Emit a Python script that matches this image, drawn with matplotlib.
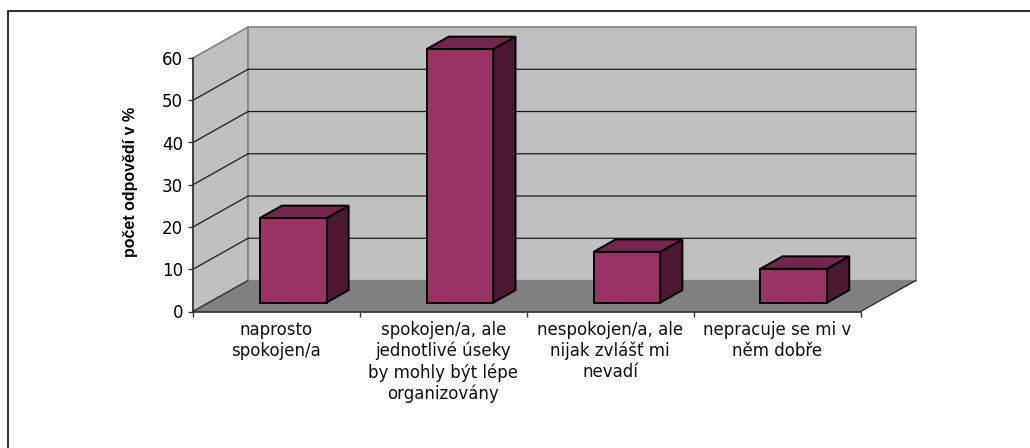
import matplotlib
matplotlib.use("Agg")
import matplotlib.pyplot as plt
from matplotlib.lines import Line2D
from matplotlib.patches import Polygon

categories = [
    "naprosto\nspokojen/a",
    "spokojen/a, ale\njednotlivé úseky\nby mohly být lépe\norganizovány",
    "nespokojen/a, ale\nnijak zvlášť mi\nnevadí",
    "nepracuje se mi v\nněm dobře",
]
values = [20, 60, 12, 8]
y_ticks = [0, 10, 20, 30, 40, 50, 60]

# oblique depth of the 3D box, in axis units
DEPTH_X = 0.33
DEPTH_Y = 7.33
BAR_WIDTH = 0.4
BAR_FRONT = 0.29
BAR_BACK = 0.69


def proj(x, v, d):
    return (x + d * DEPTH_X, v + d * DEPTH_Y)


def face(ax, corners, color, edge, lw, z):
    pts = [proj(*c) for c in corners]
    ax.add_patch(Polygon(pts, closed=True, facecolor=color, edgecolor=edge,
                         linewidth=lw, zorder=z, clip_on=False, joinstyle='miter'))


W, H = 1030, 448
fig = plt.figure(figsize=(W / 100, H / 100), dpi=100)

# outer frame, only top and left fall inside the image
fig.add_artist(Line2D([7.5 / W, 7.5 / W, 1], [0, 1 - 11 / H, 1 - 11 / H],
                      transform=fig.transFigure, color='#333333', lw=1.5))

ax = fig.add_axes([193 / W, 1 - 311.5 / H, 667.5 / W, 253.5 / H])
ax.set_xlim(0, len(values))
ax.set_ylim(0, 60)
ax.patch.set_visible(False)

n = len(values)
top = y_ticks[-1]

# walls and floor
face(ax, [(0, 0, 0), (0, top, 0), (0, top, 1), (0, 0, 1)], '#C0C0C0', '#808080', 1.2, 1)
face(ax, [(0, 0, 1), (n, 0, 1), (n, top, 1), (0, top, 1)], '#C0C0C0', '#808080', 1.2, 1)
face(ax, [(0, 0, 0), (n, 0, 0), (n, 0, 1), (0, 0, 1)], '#808080', '#808080', 1, 2)

# floor edges
for x in (0, n):
    a, b = proj(x, 0, 0), proj(x, 0, 1)
    ax.plot([a[0], b[0]], [a[1], b[1]], color='#303030', lw=0.9, zorder=3, clip_on=False)

# gridlines, running along the side wall and the back wall
for v in y_ticks[1:-1]:
    a, b, c = proj(0, v, 0), proj(0, v, 1), proj(n, v, 1)
    ax.plot([a[0], b[0], c[0]], [a[1], b[1], c[1]], color='#1a1a1a', lw=0.9,
            zorder=3, clip_on=False, solid_joinstyle='miter')

# bars: front, top and side faces
for i, val in enumerate(values):
    x0 = i + 0.5 - BAR_WIDTH / 2 + 0.005
    x1 = x0 + BAR_WIDTH
    f, b = BAR_FRONT, BAR_BACK
    z = 4
    face(ax, [(x1, 0, f), (x1, 0, b), (x1, val, b), (x1, val, f)], '#4C1933', 'black', 1.4, z)
    face(ax, [(x0, val, f), (x1, val, f), (x1, val, b), (x0, val, b)], '#732650', 'black', 1.4, z)
    face(ax, [(x0, 0, f), (x1, 0, f), (x1, val, f), (x0, val, f)], '#993366', 'black', 1.4, z)

for s in ('top', 'right'):
    ax.spines[s].set_visible(False)
for s in ('left', 'bottom'):
    ax.spines[s].set_color('#333333')
    ax.spines[s].set_linewidth(1.2)
    ax.spines[s].set_zorder(5)

ax.set_yticks(y_ticks)
ax.tick_params(axis='y', length=3.6, width=1, color='#333333', labelsize=12, pad=3.5)
for t in ax.get_yticklabels():
    t.set_family('DejaVu Sans')
ax.set_xticks(range(n + 1))
ax.set_xticklabels([])
ax.tick_params(axis='x', which='major', length=3.6, width=1, color='#333333')
ax.set_xticks([i + 0.5 for i in range(n)], minor=True)
ax.set_xticklabels(categories, minor=True, fontsize=12, linespacing=1.19, family='DejaVu Sans',
                   color='#111111')
ax.tick_params(axis='x', which='minor', length=0, pad=7)

ax.set_ylabel("počet odpovědí v %", fontsize=11.5, fontweight='bold', family='Liberation Sans')
ax.yaxis.set_label_coords(-0.082, 0.51)

plt.savefig('out.png', dpi=100)
